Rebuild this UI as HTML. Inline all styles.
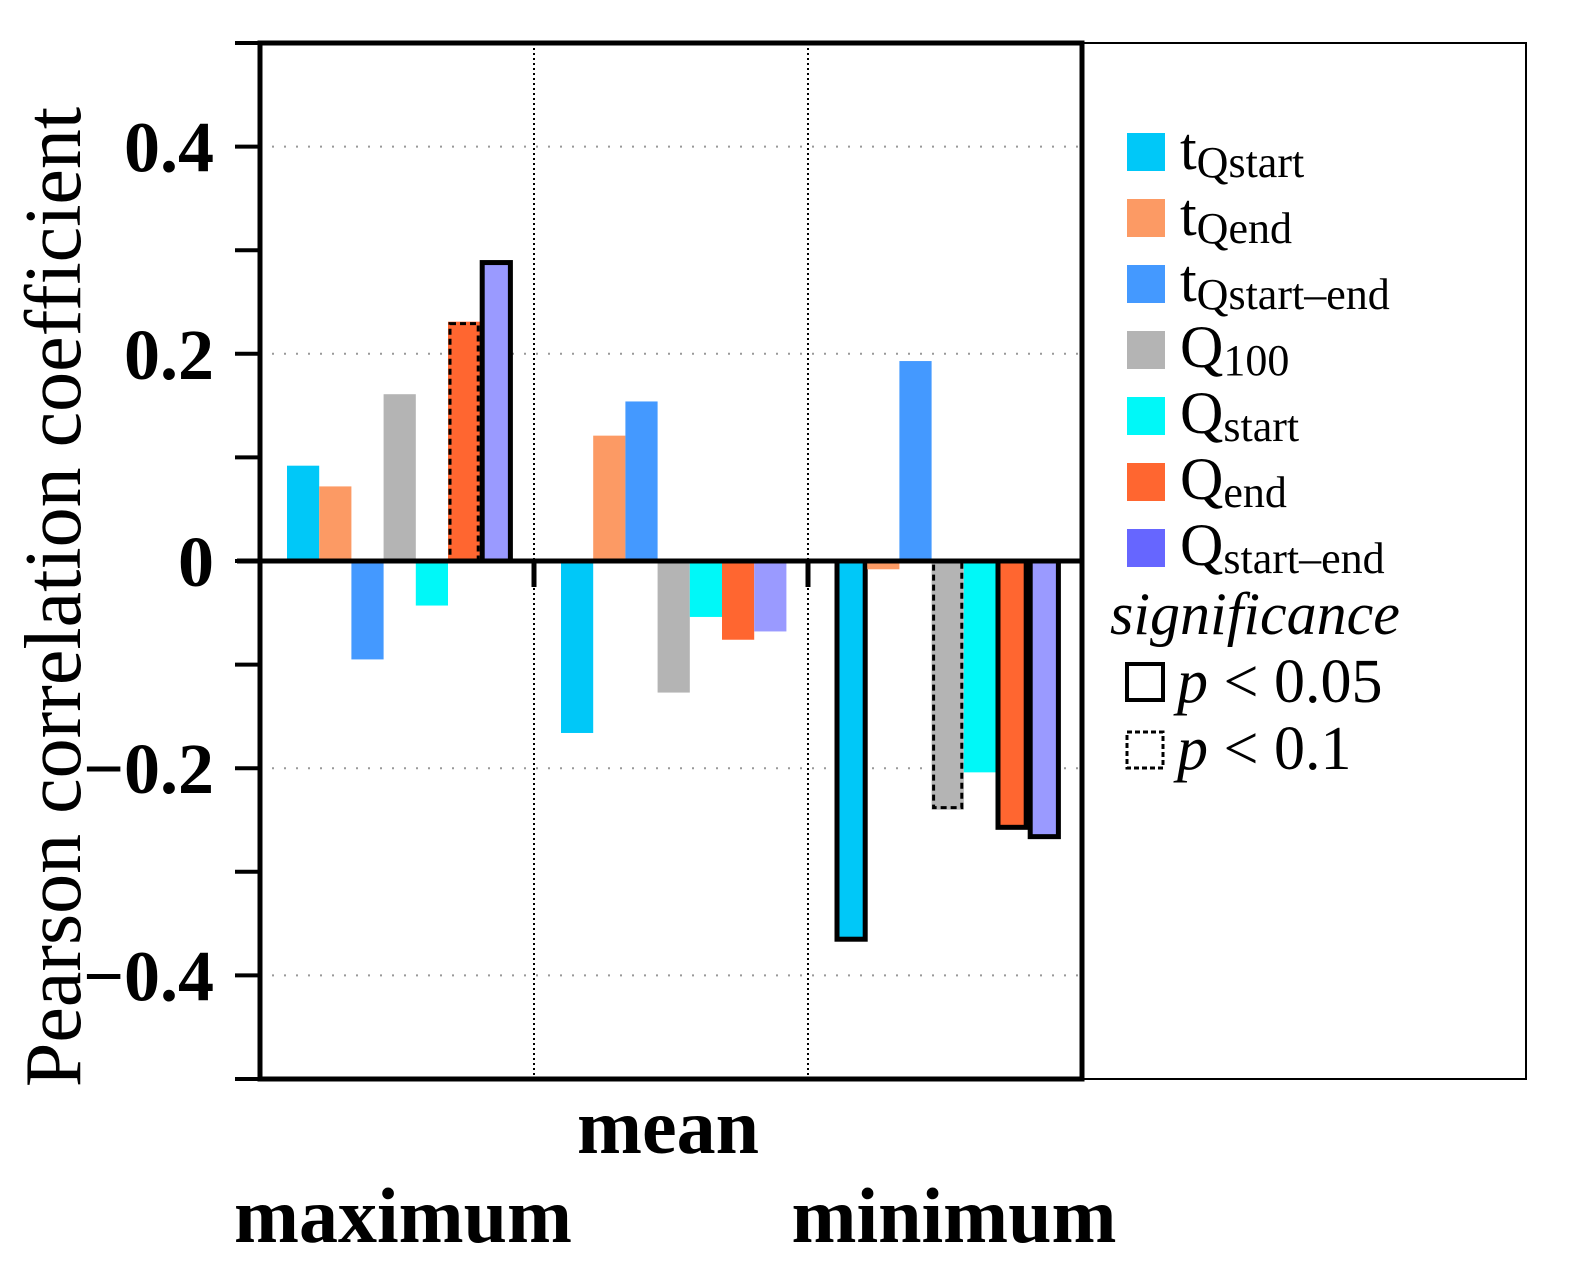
<!DOCTYPE html>
<html><head><meta charset="utf-8"><style>
html,body{margin:0;padding:0;background:#fff;}
svg{display:block;font-family:"Liberation Serif",serif;}
</style></head><body>
<svg id="chart" width="1571" height="1271" viewBox="0 0 1571 1271">
<g id="grid"></g>
<g id="bars"></g>
<g id="axes"></g>
<text transform="translate(80,597) rotate(-90)" text-anchor="middle" font-size="80">Pearson correlation coefficient</text>
<text x="668" y="1153" text-anchor="middle" font-size="78" font-weight="bold">mean</text>
<text x="403" y="1242" text-anchor="middle" font-size="78" font-weight="bold">maximum</text>
<text x="954" y="1242" text-anchor="middle" font-size="78" font-weight="bold">minimum</text>
<g id="legend">
<rect x="1082" y="43" width="444" height="1036" fill="none" stroke="#000" stroke-width="2"/>
</g>
</svg>
<script>
const categories = ["maximum","mean","minimum"];
const seriesNames = ["tQstart","tQend","tQstart-end","Q100","Qstart","Qend","Qstart-end"];
const seriesColors = ["#00c8f8","#fc9a64","#4499ff","#b4b4b4","#00f8f8","#ff6630","#9a9aff"];
const legendColors = ["#00c8f8","#fc9a64","#4499ff","#b4b4b4","#00f8f8","#ff6630","#6666ff"];
const valsMaximum = [0.092,0.072,-0.095,0.161,-0.043,0.231,0.290];
const valsMean = [-0.166,0.121,0.154,-0.127,-0.054,-0.076,-0.068];
const valsMinimum = [-0.367,-0.008,0.193,-0.240,-0.204,-0.259,-0.268];
const sigMaximum = [0,0,0,0,0,2,1];
const sigMean = [0,0,0,0,0,0,0];
const sigMinimum = [1,0,0,2,0,1,1];
const yTicks = [0.4,0.2,0,-0.2,-0.4];
const yTickLabels = ["0.4","0.2","0","\u22120.2","\u22120.4"];
const yMinor = [-0.5,-0.4,-0.3,-0.2,-0.1,0,0.1,0.2,0.3,0.4,0.5];

const NS="http://www.w3.org/2000/svg";
const X0=260,X1=1082,Y0=43,Y1=1079,yMin=-0.5,yMax=0.5;
const y=v=>Y1-(v-yMin)/(yMax-yMin)*(Y1-Y0);
const groupW=(X1-X0)/categories.length;
const barW=32.2,barOff=27;
const bx=(g,i)=>X0+g*groupW+barOff+i*barW;
function mk(tag,attrs,parent){const e=document.createElementNS(NS,tag);for(const k in attrs)e.setAttribute(k,attrs[k]);parent.appendChild(e);return e;}
const grid=document.getElementById('grid'),bars=document.getElementById('bars'),axes=document.getElementById('axes'),legend=document.getElementById('legend');

yTicks.forEach(t=>{if(t===0)return;
 const l=mk('line',{x1:X0,x2:X1,y1:y(t),y2:y(t),stroke:'#999','stroke-width':2,'stroke-dasharray':'2 10'},grid);
 
 });
for(let g=1;g<categories.length;g++){
 const l=mk('line',{x1:X0+g*groupW,x2:X0+g*groupW,y1:Y0,y2:Y1,stroke:'#000','stroke-width':2,'stroke-dasharray':'2 3'},grid);
 
 }

const allVals=[valsMaximum,valsMean,valsMinimum],allSig=[sigMaximum,sigMean,sigMinimum];
allVals.forEach((vals,g)=>vals.forEach((v,i)=>{
 const top=Math.min(y(v),y(0)),h=Math.abs(y(v)-y(0));
 const r=mk('rect',{x:bx(g,i),y:top,width:barW,height:h,fill:seriesColors[i]},bars);
 
 
 const s=allSig[g][i];
 if(s){const o=mk('rect',{x:bx(g,i)+2,y:top+(v>0?2:0),width:barW-4,height:h-2,fill:'none',stroke:'#000','stroke-width':s===1?5:3,'stroke-dasharray':s===1?'none':'6 4'},bars);
  
  }
}));

const frame=mk('rect',{x:X0,y:Y0,width:X1-X0,height:Y1-Y0,fill:'none',stroke:'#000','stroke-width':5},axes);


const zl=mk('line',{x1:237,x2:X1,y1:y(0),y2:y(0),stroke:'#000','stroke-width':5},axes);


for(let g=1;g<categories.length;g++){const t=mk('line',{x1:X0+g*groupW,x2:X0+g*groupW,y1:y(0),y2:y(0)+26,stroke:'#000','stroke-width':5},axes);
 
 }
yMinor.forEach(t=>{const l=mk('line',{x1:235,x2:X0,y1:y(t),y2:y(t),stroke:'#000','stroke-width':4},axes);
 
 });
yTicks.forEach((t,i)=>{const tx=mk('text',{x:214,y:y(t)+25,'text-anchor':'end','font-size':72,'font-weight':'bold'},axes);
 tx.textContent=yTickLabels[i];
 
 });

const legMain=["t","t","t","Q","Q","Q","Q"];
const legSub=["Qstart","Qend","Qstart\u2013end","100","start","end","start\u2013end"];
legMain.forEach((m,i)=>{const yy=133+i*66;
 const sw=mk('rect',{x:1127,y:yy,width:38,height:38,fill:legendColors[i]},legend);
 
 
 const tx=mk('text',{x:1180,y:yy+36,'font-size':60},legend);
 
 
 tx.innerHTML=m+'<tspan dy="8" font-size="44">'+legSub[i]+'</tspan>';});
const sig=mk('text',{x:1110,y:634,'font-size':60,'font-style':'italic'},legend);
sig.textContent='significance';


const b1=mk('rect',{x:1127,y:664,width:36,height:36,fill:'none',stroke:'#000','stroke-width':4},legend);


const b2=mk('rect',{x:1127,y:732,width:36,height:36,fill:'none',stroke:'#000','stroke-width':3,'stroke-dasharray':'5 3'},legend);


const t1=mk('text',{x:1177,y:702,'font-size':62},legend);
t1.innerHTML='<tspan font-style="italic">p</tspan> &lt; 0.05';


const t2=mk('text',{x:1177,y:769,'font-size':62},legend);
t2.innerHTML='<tspan font-style="italic">p</tspan> &lt; 0.1';


</script>
</body></html>
